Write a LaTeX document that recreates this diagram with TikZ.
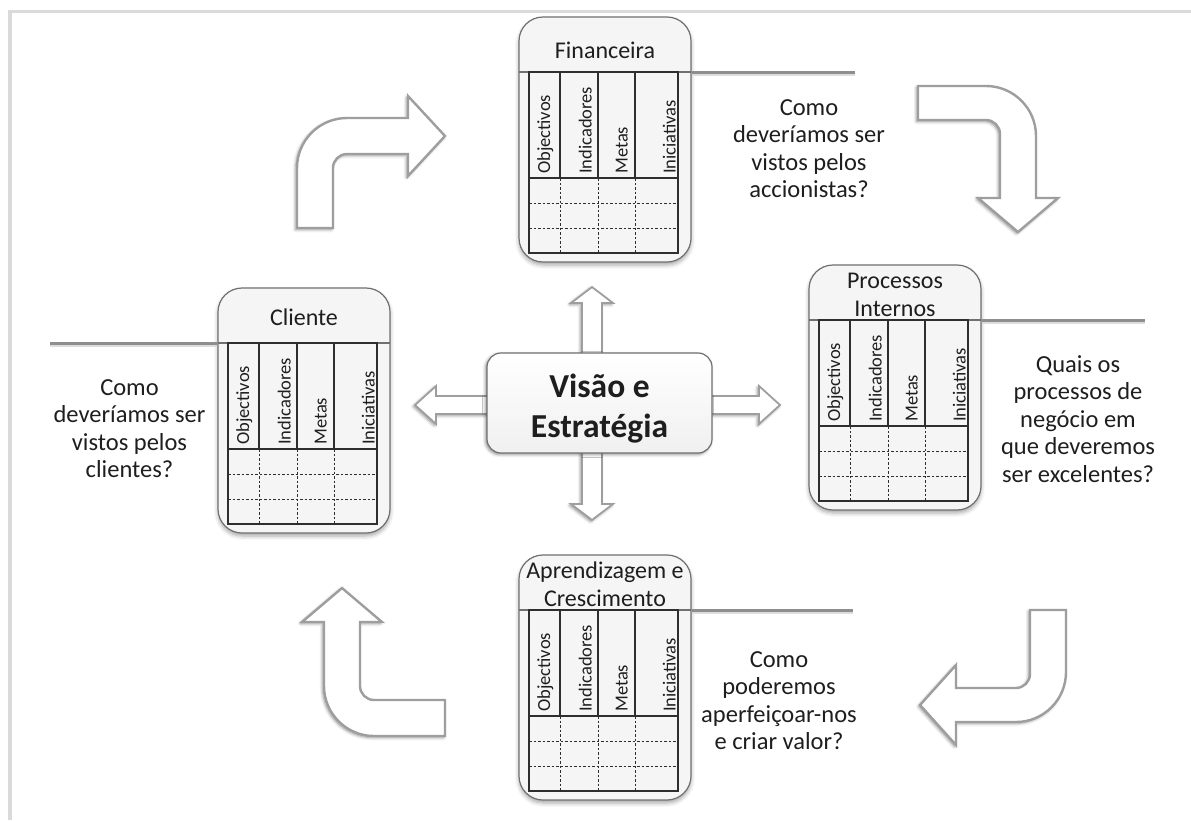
\documentclass[tikz,border=0pt]{standalone}
\usepackage{fontspec}
\setmainfont{Carlito}
\usetikzlibrary{shadows.blur}

\definecolor{framegray}{HTML}{DADADA}
\definecolor{arrowline}{HTML}{9E9E9E}
\definecolor{cardline}{HTML}{707070}
\definecolor{gridline}{HTML}{2E2E2E}
\definecolor{rulegray}{HTML}{8E8E8E}
\definecolor{ruleshade}{HTML}{DDDDDD}
\definecolor{inktext}{HTML}{1E1E1E}
\definecolor{cardfill}{HTML}{F5F5F5}

\newcommand{\qfont}{\fontsize{24.5}{27.5}\selectfont}
\newcommand{\tfont}{\fontsize{24}{28}\selectfont}
\newcommand{\hfont}{\fontsize{18.5}{20}\selectfont}
\newcommand{\vfont}{\fontsize{33.5}{40}\selectfont\bfseries}

\tikzset{
  softshadow/.style={blur shadow={shadow xshift=-1.5pt, shadow yshift=-1.5pt,
      shadow blur radius=3pt, shadow opacity=45}},
  bentarrow/.style={fill=white, draw=arrowline, line width=2.4pt,
      line join=miter, softshadow},
  twinarrow/.style={fill=white, draw=arrowline, line width=1.8pt,
      line join=miter, softshadow},
  cardbox/.style={draw=cardline, line width=1.2pt, rounded corners=24pt,
      fill=cardfill, minimum width=172pt, minimum height=245pt, inner sep=0pt,
      blur shadow={shadow xshift=0pt, shadow yshift=-3pt,
      shadow blur radius=4pt, shadow opacity=35}},
  cardtitle/.style={font=\tfont, text=inktext, align=center, inner sep=0pt,
      anchor=north},
  colhead/.style={font=\hfont, text=inktext, rotate=90, anchor=base west,
      inner sep=0pt},
  gridsolid/.style={draw=gridline, line width=1.1pt},
  griddash/.style={draw=gridline, line width=1pt, dash pattern=on 2.5pt off 2pt},
  rulemain/.style={draw=rulegray, line width=3pt},
  ruleback/.style={draw=ruleshade, line width=3pt},
  question/.style={font=\qfont, text=inktext, align=center, inner sep=0pt,
      anchor=north},
  centerbox/.style={draw=cardline, line width=1.2pt, rounded corners=14pt,
      top color=white, bottom color=gray!12, minimum width=225pt,
      minimum height=100pt, inner sep=0pt, softshadow},
  centertext/.style={font=\vfont, text=inktext, align=center, inner sep=0pt,
      anchor=north},
  framebar/.style={draw=framegray, line width=3.5pt}
}

% One perspective card: #1,#2 = top-left corner of the table,
% #3 = node name, #4 = title, #5 = first baseline of the title
\newcommand{\bsccard}[5]{%
  \begin{scope}[shift={(#1,#2)}]
    \node[cardbox] (#3) at (76,67.5) {};
    \draw[draw=cardline, line width=1.2pt] (-10,0) -- (162,0);
    \node[cardtitle] (#3-title) at (76,#5-19.6) {\strut #4};
    % table
    \draw[gridsolid] (0,0) rectangle (149,181);
    \draw[gridsolid] (0,106) -- (149,106);
    \foreach \cx in {31,69,106} {
      \draw[gridsolid] (\cx,0) -- (\cx,106);
      \draw[griddash] (\cx,106) -- (\cx,181);
    }
    \foreach \ry in {131,156} \draw[griddash] (0,\ry) -- (149,\ry);
    \node[colhead] (#3-obj) at (21,102) {Objectivos};
    \node[colhead] (#3-ind) at (62.5,102) {Indicadores};
    \node[colhead] (#3-met) at (98.5,102) {Metas};
    \node[colhead] (#3-ini) at (146.5,102) {Iniciativas};
  \end{scope}}

\begin{document}
\begin{tikzpicture}[x=1pt,y=-1pt]
\useasboundingbox (0,0) rectangle (1191,820);

% page frame
\draw[framebar] (8,11.5) -- (1191,11.5);
\draw[framebar] (10,10) -- (10,820);

% rules that carry each card's question
\coordinate (finEnd) at (855,72);
\coordinate (cliEnd) at (50,343);
\coordinate (proEnd) at (1145,320);
\coordinate (aprEnd) at (853,610);

% bent block arrows circling the cards
\draw[bentarrow] (297,228) -- (297,168) .. controls (297,140.4) and (319.4,118) .. (347,118)
  -- (408,118) -- (408,96) -- (445,136) -- (408,176) -- (408,154) -- (347,154)
  .. controls (339.3,154) and (333,160.3) .. (333,168) -- (333,228) -- cycle;
\draw[bentarrow] (918,86) -- (986,86) .. controls (1013.6,86) and (1036,108.4) .. (1036,136)
  -- (1036,198) -- (1058,198) -- (1018,232) -- (978,198) -- (1000,198) -- (1000,134)
  .. controls (1000,126.3) and (993.7,120) .. (986,120) -- (918,120) -- cycle;
\draw[bentarrow] (1030,610) -- (1066,610) -- (1066,672)
  .. controls (1066,699.6) and (1043.6,722) .. (1016,722) -- (956,722) -- (956,745)
  -- (920,705) -- (956,665) -- (956,688) -- (1016,688)
  .. controls (1023.7,688) and (1030,681.7) .. (1030,674) -- cycle;
\draw[bentarrow] (445,736) -- (374,736) .. controls (346.4,736) and (324,713.6) .. (324,686)
  -- (324,622) -- (302,622) -- (342,588) -- (382,622) -- (360,622) -- (360,686)
  .. controls (360,693.7) and (366.3,700) .. (374,700) -- (445,700) -- cycle;

% the four perspectives
\bsccard{529}{72}{fin}{Financeira}{-14}
\bsccard{228}{343}{cli}{Cliente}{-18}
\bsccard{819}{320}{pro}{Processos\\Internos}{-32}
\bsccard{529}{610}{apr}{Aprendizagem e\\Crescimento}{-32}

\draw[ruleback] ([yshift=-2.5pt]fin.east |- finEnd) -- ([yshift=-2.5pt]finEnd);
\draw[ruleback] ([yshift=-2.5pt]cliEnd) -- ([yshift=-2.5pt]cli.west |- cliEnd);
\draw[ruleback] ([yshift=-2.5pt]pro.east |- proEnd) -- ([yshift=-2.5pt]proEnd);
\draw[ruleback] ([yshift=-2.5pt]apr.east |- aprEnd) -- ([yshift=-2.5pt]aprEnd);
\draw[rulemain] (fin.east |- finEnd) -- (finEnd);
\draw[rulemain] (cliEnd) -- (cli.west |- cliEnd);
\draw[rulemain] (pro.east |- proEnd) -- (proEnd);
\draw[rulemain] (apr.east |- aprEnd) -- (aprEnd);

% questions
\node[question] (qfin) at (809,95.7) {\strut Como\\deveríamos ser\\vistos pelos\\accionistas?};
\node[question] (qcli) at (129.5,375.7) {\strut Como\\deveríamos ser\\vistos pelos\\clientes?};
\node[question] (qpro) at (1078,352.7) {\strut Quais os\\processos de\\negócio em\\que deveremos\\ser excelentes?};
\node[question] (qapr) at (779,647.7) {\strut Como\\poderemos\\aperfeiçoar-nos\\e criar valor?};

% two-way arrows from the centre
\draw[twinarrow] (582,303) -- (571,303) -- (592,287) -- (613,303) -- (602,303)
  -- (602,504) -- (613,504) -- (592,520) -- (571,504) -- (582,504) -- cycle;
\draw[twinarrow] (436,396) -- (436,386) -- (415,405) -- (436,424) -- (436,414)
  -- (759,414) -- (759,424) -- (780,405) -- (759,386) -- (759,396) -- cycle;

% vision and strategy
\node[centerbox] (vis) at (599.5,403) {};
\node[centertext] (vis-text) at (599.5,369) {\strut Visão e\\Estratégia};
\end{tikzpicture}
\end{document}
